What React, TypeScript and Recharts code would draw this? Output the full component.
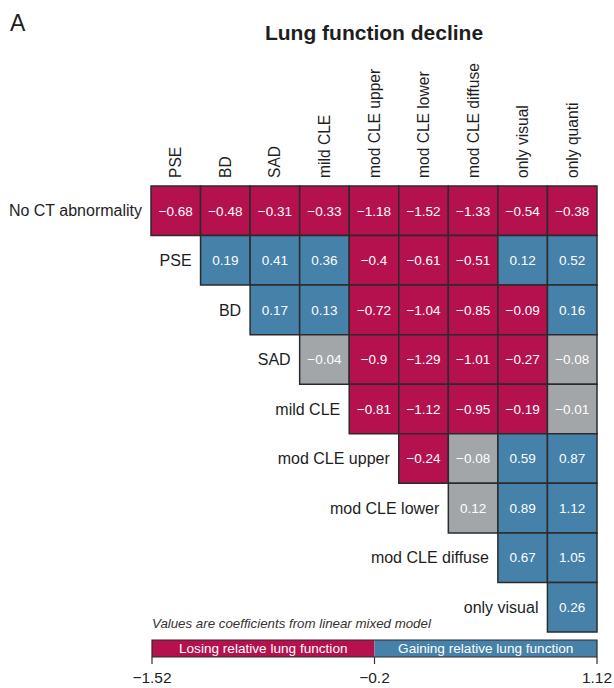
import React from 'react';
import { ComposedChart, XAxis, YAxis, ReferenceArea, ReferenceDot } from 'recharts';

const colLabels = ['PSE', 'BD', 'SAD', 'mild CLE', 'mod CLE upper', 'mod CLE lower', 'mod CLE diffuse', 'only visual', 'only quanti'];
const rowLabels = ['No CT abnormality', 'PSE', 'BD', 'SAD', 'mild CLE', 'mod CLE upper', 'mod CLE lower', 'mod CLE diffuse', 'only visual'];

// row i starts at column i
const rowNoCT = [-0.68, -0.48, -0.31, -0.33, -1.18, -1.52, -1.33, -0.54, -0.38];
const rowPSE = [0.19, 0.41, 0.36, -0.4, -0.61, -0.51, 0.12, 0.52];
const rowBD = [0.17, 0.13, -0.72, -1.04, -0.85, -0.09, 0.16];
const rowSAD = [-0.04, -0.9, -1.29, -1.01, -0.27, -0.08];
const rowMildCLE = [-0.81, -1.12, -0.95, -0.19, -0.01];
const rowModUpper = [-0.24, -0.08, 0.59, 0.87];
const rowModLower = [0.12, 0.89, 1.12];
const rowModDiffuse = [0.67, 1.05];
const rowOnlyVisual = [0.26];
const coefficientRows = [rowNoCT, rowPSE, rowBD, rowSAD, rowMildCLE, rowModUpper, rowModLower, rowModDiffuse, rowOnlyVisual];

// [row, column] pairs shown in grey (not significant)
const notSignificant = [[3, 3], [3, 8], [4, 8], [5, 6], [6, 6]];

const scaleTicks = [-1.52, -0.2, 1.12];
const scaleLabels = ['Losing relative lung function', 'Gaining relative lung function'];

const CRIMSON = '#b5114f';
const BLUE = '#4681a9';
const GREY = '#a2a6a9';
const BORDER = '#2b2b2b';
const FONT = '"Liberation Sans", Arial, Helvetica, sans-serif';

const fmt = (v: number) => (v < 0 ? '\u2212' + String(Math.abs(v)) : String(v));

const cells = coefficientRows.flatMap((vals, r) =>
  vals.map((v, k) => {
    const c = r + k;
    const grey = notSignificant.some(([nr, nc]) => nr === r && nc === c);
    return { r, c, cx: c + 0.5, cy: r + 0.5, v, fill: grey ? GREY : v < 0 ? CRIMSON : BLUE };
  })
);

const colTicks = colLabels.map((_, i) => i + 0.5);

const ColTick = ({ x, y, payload }: any) => {
  const label = colLabels[Math.round(payload.value - 0.5)];
  return (
    <text
      x={x}
      y={y}
      dy="0.36em"
      transform={`rotate(-90, ${x}, ${y})`}
      textAnchor="start"
      fontSize={15.6}
      fill="#1e1e1e"
      fontFamily={FONT}
    >
      {label}
    </text>
  );
};

export default function App() {
  return (
    <div style={{ position: 'absolute', left: 0, top: 0, width: 614, height: 688, fontFamily: FONT, background: '#fff' }}>
      <div style={{ position: 'absolute', left: 0, top: 0 }}>
        <ComposedChart width={614} height={640} data={cells} margin={{ top: 36, right: 17, left: 151, bottom: 8 }}>
          <XAxis
            dataKey="cx"
            type="number"
            orientation="top"
            domain={[0, 9]}
            allowDataOverflow
            ticks={colTicks}
            height={150}
            axisLine={false}
            tickLine={false}
            tickSize={0}
            tickMargin={8}
            interval={0}
            tick={<ColTick />}
          />
          <YAxis dataKey="cy" type="number" domain={[0, 9]} allowDataOverflow reversed hide />
          {cells.map((d) => (
            <ReferenceArea
              key={`cell-${d.r}-${d.c}`}
              x1={d.c}
              x2={d.c + 1}
              y1={d.r}
              y2={d.r + 1}
              ifOverflow="visible"
              fill={d.fill}
              fillOpacity={1}
              stroke={BORDER}
              strokeWidth={1.5}
              label={{ value: fmt(d.v), position: 'center', fill: '#fff', fontSize: 13.5, fontFamily: FONT }}
            />
          ))}
          {rowLabels.map((lab, i) => (
            <ReferenceDot
              key={`row-${i}`}
              x={i}
              y={i + 0.5}
              r={0}
              ifOverflow="visible"
              fill="none"
              stroke="none"
              label={{ value: lab, position: 'left', offset: 9, fontSize: 16, fill: '#1e1e1e', fontFamily: FONT }}
            />
          ))}
        </ComposedChart>
      </div>

      <div style={{ position: 'absolute', left: 0, top: 632 }}>
        <ComposedChart width={614} height={56} data={[{ v: 0, y: 0.5 }]} margin={{ top: 8, right: 17, left: 152, bottom: 0 }}>
          <XAxis
            type="number"
            dataKey="v"
            domain={[scaleTicks[0], scaleTicks[2]]}
            allowDataOverflow
            ticks={scaleTicks}
            interval={0}
            height={31}
            axisLine={false}
            tickLine={{ stroke: '#333', strokeWidth: 1.2 }}
            tickSize={7}
            tickMargin={8}
            tickFormatter={fmt}
            tick={{ fontSize: 15.5, fill: '#1e1e1e', fontFamily: FONT }}
          />
          <YAxis type="number" dataKey="y" domain={[0, 1]} allowDataOverflow hide />
          <ReferenceArea
            x1={scaleTicks[0]}
            x2={scaleTicks[1]}
            y1={0}
            y2={1}
            ifOverflow="visible"
            fill={CRIMSON}
            fillOpacity={1}
            stroke="none"
            label={{ value: scaleLabels[0], position: 'center', fill: '#fff', fontSize: 13.6, fontFamily: FONT }}
          />
          <ReferenceArea
            x1={scaleTicks[1]}
            x2={scaleTicks[2]}
            y1={0}
            y2={1}
            ifOverflow="visible"
            fill={BLUE}
            fillOpacity={1}
            stroke="none"
            label={{ value: scaleLabels[1], position: 'center', fill: '#fff', fontSize: 13.6, fontFamily: FONT }}
          />
          <ReferenceArea
            x1={scaleTicks[0]}
            x2={scaleTicks[2]}
            y1={0}
            y2={1}
            ifOverflow="visible"
            fill="none"
            fillOpacity={0}
            stroke={BORDER}
            strokeWidth={1.2}
          />
        </ComposedChart>
      </div>

      <svg width={614} height={688} style={{ position: 'absolute', left: 0, top: 0, pointerEvents: 'none' }}>
        <text x={10} y={31} fontSize={23} fill="#1e1e1e" fontFamily={FONT}>A</text>
        <text x={374} y={40} fontSize={21} fontWeight="bold" textAnchor="middle" fill="#1e1e1e" fontFamily={FONT}>
          Lung function decline
        </text>
        <text x={152} y={628} fontSize={13.3} fontStyle="italic" fill="#333" fontFamily={FONT}>
          Values are coefficients from linear mixed model
        </text>
      </svg>
    </div>
  );
}
